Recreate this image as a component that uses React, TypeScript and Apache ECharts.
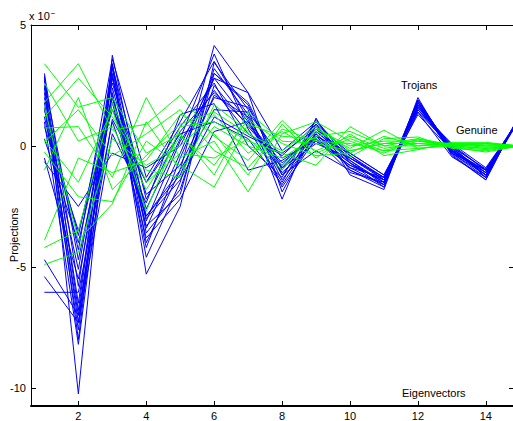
import React, { useEffect, useRef } from "react";
import * as echarts from "echarts";

const eigenvectors = [1, 2, 3, 4, 5, 6, 7, 8, 9, 10, 11, 12, 13, 14, 15];
const xTicks = [2, 4, 6, 8, 10, 12, 14];
const yTicks = [-10, -5, 0, 5];

// Projections (x 10^-3)
const trojans: number[][] = [
  [2.9, -10.25, 3.75, -2.9, -1.0, 4.15, 2.2, -1.9, 0.6, -0.6, -1.5, 1.9, -0.2, -1.2, 1.2],
  [2.5, -8.0, 3.4, -5.3, -2.5, 3.45, 1.5, -2.2, 1.15, -1.2, -1.8, 2.0, -0.4, -1.4, 1.3],
  [2.2, -7.3, 3.0, -4.6, -1.5, 3.2, 1.3, -1.4, 0.4, -0.9, -1.6, 1.8, -0.1, -1.1, 1.2],
  [1.8, -7.0, 2.2, -4.2, -0.5, 2.8, 1.0, -1.1, 0.2, -0.8, -1.4, 1.7, -0.3, -1.0, 1.1],
  [3.0, -5.8, 3.4, -3.6, -1.8, 2.5, 0.8, -0.8, 0.7, -0.5, -1.3, 1.6, 0.0, -1.3, 1.2],
  [1.2, -5.1, 2.8, -3.1, 0.2, 2.3, 0.5, -0.4, 0.9, -0.3, -1.2, 1.5, 0.1, -0.9, 1.1],
  [-6.05, -6.05, 1.0, -2.9, -1.2, 2.1, 1.2, -1.2, -0.2, -1.0, -1.7, 1.9, -0.3, -1.2, 1.2],
  [-5.4, -7.3, 0.5, -2.35, 1.3, 1.75, -1.0, -0.6, 0.3, -0.7, -1.5, 1.4, -0.45, -1.3, 1.2],
  [-4.7, -7.0, 1.1, -1.5, 0.5, 1.0, 0.3, -1.6, 0.5, -0.9, -1.3, 1.3, -0.2, -1.0, 1.1],
  [-0.65, -2.5, -0.3, -0.9, 0.0, 2.8, 2.2, -0.2, 1.0, -0.4, -1.4, 1.7, -0.1, -1.2, 1.2],
  [2.7, -4.7, 2.0, -3.3, -2.0, 3.0, 1.8, -1.0, 0.8, -0.6, -1.6, 1.8, -0.3, -1.3, 1.3],
  [2.0, -4.3, 3.6, -1.3, 1.0, 3.5, 1.1, -1.7, 0.3, -1.1, -1.5, 1.9, -0.2, -1.1, 1.2],
  [1.5, -3.7, 2.6, -2.0, -0.8, 2.0, 1.6, -0.9, 0.6, -0.5, -1.3, 1.6, 0.05, -1.0, 1.2],
  [0.8, -3.5, 1.5, -1.5, 0.8, 2.6, 0.0, -1.3, 1.1, -0.7, -1.7, 1.8, -0.35, -1.4, 1.3],
  [2.4, -6.5, 3.2, -4.0, -1.0, 1.5, 1.4, -0.5, 0.2, -0.8, -1.4, 1.5, -0.15, -1.2, 1.1],
  [1.0, -8.2, 2.4, -2.6, 0.3, 3.8, 0.7, -1.5, 0.9, -1.0, -1.6, 1.7, -0.25, -1.1, 1.2],
  [-0.5, -5.5, 1.8, -3.8, -2.2, 0.6, 1.0, -0.7, 0.4, -0.3, -1.2, 1.4, -0.05, -0.95, 1.1],
  [1.6, -7.6, 2.9, -3.4, -0.3, 3.0, 1.7, -1.2, 0.5, -0.7, -1.5, 1.8, -0.2, -1.2, 1.2],
  [2.8, -6.8, 3.3, -2.2, 0.6, 2.2, 0.9, -0.9, 0.1, -0.5, -1.4, 1.6, -0.1, -1.1, 1.2],
  [0.3, -4.0, 2.1, -3.0, -1.4, 1.2, 0.4, -0.3, 0.7, -0.4, -1.3, 1.5, 0.0, -1.0, 1.1],
];

const genuine: number[][] = [
  [3.4, 1.6, 2.0, -0.3, 0.5, -1.2, 1.4, 0.2, 0.1, -0.2, 0.1, 0.1, 0.0, -0.1, 0.0],
  [1.8, 3.4, 0.65, 0.9, 2.1, 0.4, -0.6, 1.05, -0.3, 0.3, -0.2, 0.2, 0.1, 0.0, 0.0],
  [1.2, 2.8, 1.2, -1.0, -1.3, 1.7, 0.6, -0.8, 0.6, -0.1, 0.65, -0.1, 0.05, 0.1, 0.0],
  [0.74, 0.8, -1.3, 2.0, -0.5, 0.2, -1.9, 0.5, 1.0, 0.2, -0.3, 0.3, -0.05, -0.25, 0.0],
  [0.25, -1.5, 1.5, -2.7, 0.8, 1.0, 0.2, -0.3, -0.8, 0.8, 0.0, 0.0, 0.1, 0.1, 0.0],
  [-0.25, -2.1, -2.3, 0.2, -0.8, -1.7, 0.9, 0.4, 0.3, -0.45, 0.3, 0.37, -0.1, -0.2, 0.0],
  [-3.9, -0.5, -1.1, -0.6, 1.3, 0.5, -1.2, 0.9, -0.5, 0.5, -0.4, -0.15, 0.15, 0.15, 0.0],
  [-4.2, -3.5, 1.8, -1.5, -0.3, -0.5, 0.3, -1.0, 0.7, 0.0, 0.2, 0.2, 0.0, -0.1, 0.0],
  [-4.9, -4.4, 0.3, -0.8, 0.0, 1.3, -0.3, 0.6, -0.2, 0.4, -0.1, 0.1, 0.05, 0.05, 0.0],
  [1.6, -3.9, -2.4, 1.0, -1.0, 0.8, 0.0, -0.5, 0.4, 0.6, 0.0, 0.25, -0.05, -0.15, 0.0],
  [2.6, 0.2, 0.8, -1.8, 0.4, -0.8, 1.1, 0.1, -0.4, -0.3, 0.4, 0.0, 0.1, 0.0, 0.0],
  [0.16, 1.5, -0.4, 0.5, 1.5, -0.2, -0.9, 0.7, 0.2, 0.1, -0.2, -0.1, 0.0, 0.1, 0.0],
  [-1.0, 2.0, -1.8, -0.4, 0.9, 1.4, 0.5, -0.2, 0.8, -0.2, 0.1, 0.3, 0.05, -0.05, 0.0],
];

const FONT = "'Liberation Sans', Arial, Helvetica, sans-serif";

export default function App() {
  const ref = useRef<HTMLDivElement>(null);
  useEffect(() => {
    if (!ref.current) return;
    const chart = echarts.init(ref.current, undefined, { renderer: "svg" });
    const mkSeries = (rows: number[][], color: string, name: string) =>
      rows.map((row) => ({
        type: "line",
        name,
        data: row.map((v, i) => [eigenvectors[i], v]),
        showSymbol: false,
        symbol: "none",
        lineStyle: { color, width: 1 },
        itemStyle: { color },
        silent: true,
        clip: true,
      }));
    const axisCommon = {
      type: "value",
      splitLine: { show: false },
      axisLine: { show: true, onZero: false, lineStyle: { color: "#000", width: 1 } },
    };
    chart.setOption({
      animation: false,
      backgroundColor: "#fff",
      textStyle: { fontFamily: FONT },
      grid: { left: 31, right: 1, top: 25, bottom: 13.5, containLabel: false },
      xAxis: [
        {
          ...axisCommon,
          position: "bottom",
          min: 0.605,
          max: 14.83,
          axisLine: { show: true, onZero: false, lineStyle: { color: "#000", width: 2 } },
          axisTick: { show: true, inside: true, length: 5, customValues: xTicks, lineStyle: { color: "#000" } },
          axisLabel: { show: true, customValues: xTicks, fontSize: 11, color: "#000", margin: 4, fontFamily: FONT },
        },
        {
          ...axisCommon,
          position: "top",
          min: 0.605,
          max: 14.83,
          axisTick: { show: true, inside: true, length: 5, customValues: xTicks, lineStyle: { color: "#000" } },
          axisLabel: { show: false },
        },
      ],
      yAxis: [
        {
          ...axisCommon,
          position: "left",
          min: -10.75,
          max: 5,
          axisTick: { show: true, inside: true, length: 5, customValues: yTicks, lineStyle: { color: "#000" } },
          axisLabel: { show: true, customValues: yTicks, fontSize: 11, color: "#000", margin: 5, fontFamily: FONT },
        },
        {
          ...axisCommon,
          position: "right",
          min: -10.75,
          max: 5,
          axisTick: { show: true, inside: true, length: 5, customValues: yTicks, lineStyle: { color: "#000" } },
          axisLabel: { show: false },
        },
      ],
      graphic: [
        {
          type: "text",
          left: 29,
          top: 9,
          style: {
            text: "x 10{s|−}",
            fontSize: 11,
            fontFamily: FONT,
            fill: "#000",
            rich: { s: { fontSize: 8, verticalAlign: "top", padding: [0, 0, 6, 1], fontFamily: FONT } },
          },
        },
        {
          type: "text",
          x: 14,
          y: 235,
          rotation: Math.PI / 2,
          style: { text: "Projections", fontSize: 11, fontFamily: FONT, fill: "#000", align: "center", verticalAlign: "middle" },
        },
        {
          type: "text",
          x: 401,
          y: 85,
          style: { text: "Trojans", fontSize: 11, fontFamily: FONT, fill: "#000", align: "left", verticalAlign: "middle" },
        },
        {
          type: "text",
          x: 456,
          y: 130,
          style: { text: "Genuine", fontSize: 11, fontFamily: FONT, fill: "#000", align: "left", verticalAlign: "middle" },
        },
        {
          type: "text",
          x: 402,
          y: 393,
          style: { text: "Eigenvectors", fontSize: 11, fontFamily: FONT, fill: "#000", align: "left", verticalAlign: "middle" },
        },
      ],
      series: [...mkSeries(trojans, "#0000ff", "Trojans"), ...mkSeries(genuine, "#00ff00", "Genuine")],
    });
    return () => chart.dispose();
  }, []);
  return (
    <div style={{ position: "fixed", left: 0, top: 0, width: 513, height: 421, overflow: "hidden", background: "#fff" }}>
      <div ref={ref} style={{ width: 515, height: 421 }} />
    </div>
  );
}
